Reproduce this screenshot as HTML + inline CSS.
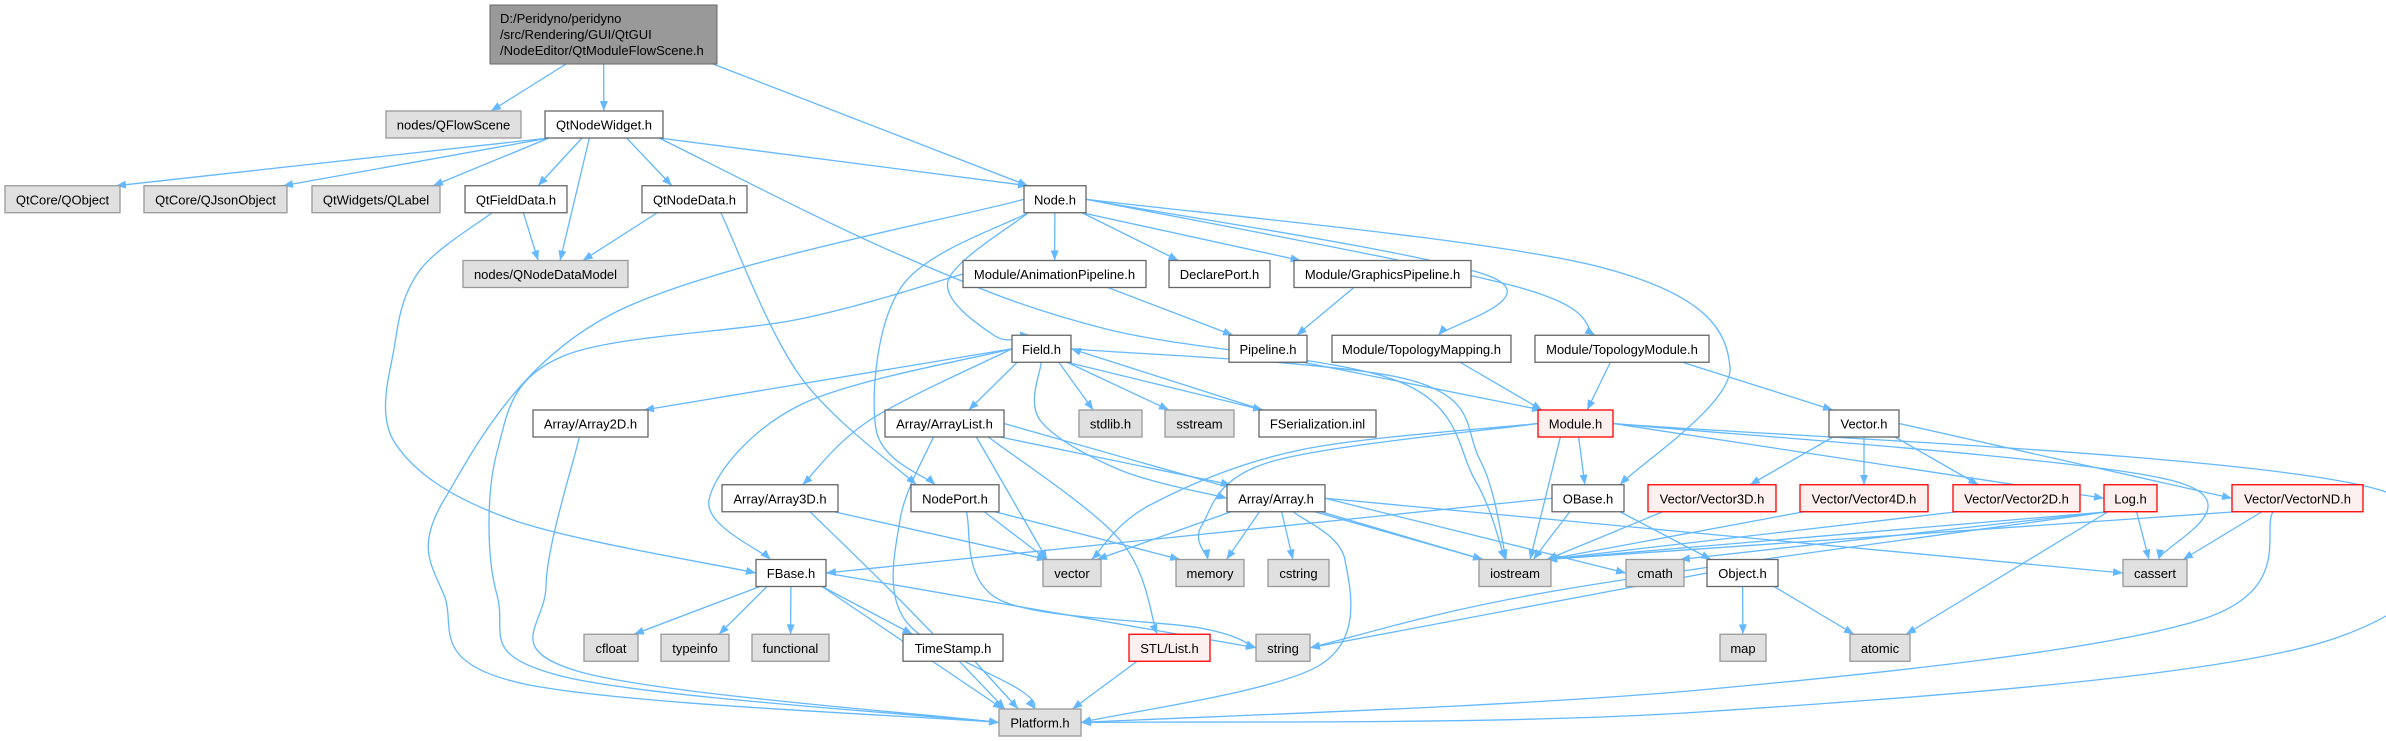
<!DOCTYPE html>
<html><head><meta charset="utf-8"><style>
html,body{margin:0;padding:0;background:#fff;}
svg{display:block;}
text{font-family:"Liberation Sans",Arial,sans-serif;font-size:13px;fill:#000;}
</style></head><body>
<svg id="s" width="2386" height="741" viewBox="0 0 2386 741" xmlns="http://www.w3.org/2000/svg">
<defs><marker id="a" viewBox="0 0 10 8" refX="10" refY="4" markerWidth="10" markerHeight="8" markerUnits="userSpaceOnUse" orient="auto"><path d="M0,0L10,4L0,8z" fill="#63b8ff"/></marker></defs>
<g id="edges" fill="none" stroke="#63b8ff" stroke-width="1.3"></g>
<g id="nodes"></g>
<g id="labels">
<rect x="490" y="5" width="227" height="59" fill="#999" stroke="#666"/>
<text x="500" y="23">D:/Peridyno/peridyno</text>
<text x="500" y="39">/src/Rendering/GUI/QtGUI</text>
<text x="500" y="55">/NodeEditor/QtModuleFlowScene.h</text>
</g>
<g text-anchor="middle">
<text x="453.5" y="129.5">nodes/QFlowScene</text><text x="604" y="129.5">QtNodeWidget.h</text>
<text x="62.5" y="204.3">QtCore/QObject</text><text x="215.5" y="204.3">QtCore/QJsonObject</text><text x="376" y="204.3">QtWidgets/QLabel</text><text x="516" y="204.3">QtFieldData.h</text><text x="694.5" y="204.3">QtNodeData.h</text><text x="1055" y="204.3">Node.h</text>
<text x="545.5" y="279">nodes/QNodeDataModel</text><text x="1054.5" y="279">Module/AnimationPipeline.h</text><text x="1219.5" y="279">DeclarePort.h</text><text x="1382.5" y="279">Module/GraphicsPipeline.h</text>
<text x="1041.5" y="353.8">Field.h</text><text x="1268" y="353.8">Pipeline.h</text><text x="1421.5" y="353.8">Module/TopologyMapping.h</text><text x="1622" y="353.8">Module/TopologyModule.h</text>
<text x="590.5" y="428.5">Array/Array2D.h</text><text x="944.5" y="428.5">Array/ArrayList.h</text><text x="1110.5" y="428.5">stdlib.h</text><text x="1199.5" y="428.5">sstream</text><text x="1317.5" y="428.5">FSerialization.inl</text><text x="1575.5" y="428.5">Module.h</text><text x="1864" y="428.5">Vector.h</text>
<text x="780" y="503.3">Array/Array3D.h</text><text x="955" y="503.3">NodePort.h</text><text x="1276" y="503.3">Array/Array.h</text><text x="1588" y="503.3">OBase.h</text><text x="1712" y="503.3">Vector/Vector3D.h</text><text x="1864" y="503.3">Vector/Vector4D.h</text><text x="2016.5" y="503.3">Vector/Vector2D.h</text><text x="2130.5" y="503.3">Log.h</text><text x="2297.5" y="503.3">Vector/VectorND.h</text>
<text x="791" y="578">FBase.h</text><text x="1072" y="578">vector</text><text x="1210" y="578">memory</text><text x="1298.5" y="578">cstring</text><text x="1515" y="578">iostream</text><text x="1655" y="578">cmath</text><text x="1742.5" y="578">Object.h</text><text x="2155" y="578">cassert</text>
<text x="611" y="652.8">cfloat</text><text x="695" y="652.8">typeinfo</text><text x="790.5" y="652.8">functional</text><text x="953" y="652.8">TimeStamp.h</text><text x="1169.5" y="652.8">STL/List.h</text><text x="1283" y="652.8">string</text><text x="1743" y="652.8">map</text><text x="1880" y="652.8">atomic</text>
<text x="1040" y="727.5">Platform.h</text>
</g>
</svg>
<script>
var R=function(r){return 111+(r-1)*74.75;};
var N={
qfs:[386,521,1,'g'],qnw:[545,663,1,'w'],
qobj:[5,120,2,'g'],qjson:[144,287,2,'g'],qlabel:[312,440,2,'g'],qfd:[465,567,2,'w'],qnd:[642,747,2,'w'],node:[1024,1086,2,'w'],
qndm:[463,628,3,'g'],anim:[963,1146,3,'w'],decl:[1169,1270,3,'w'],gfx:[1294,1471,3,'w'],
field:[1012,1071,4,'w'],pipe:[1229,1307,4,'w'],topomap:[1332,1511,4,'w'],topomod:[1535,1709,4,'w'],
a2d:[533,648,5,'w'],alist:[885,1004,5,'w'],stdlib:[1079,1142,5,'g'],sstream:[1165,1234,5,'g'],fser:[1259,1376,5,'w'],module:[1538,1613,5,'r'],vec:[1829,1899,5,'w'],
a3d:[722,838,6,'w'],nport:[911,999,6,'w'],arr:[1227,1325,6,'w'],obase:[1552,1624,6,'w'],v3:[1648,1776,6,'r'],v4:[1800,1928,6,'r'],v2:[1953,2080,6,'r'],log:[2104,2157,6,'r'],vnd:[2232,2363,6,'r'],
fbase:[756,826,7,'w'],vector:[1043,1101,7,'g'],memory:[1176,1244,7,'g'],cstring:[1268,1329,7,'g'],iostream:[1479,1551,7,'g'],cmath:[1626,1684,7,'g'],object:[1707,1778,7,'w'],cassert:[2123,2187,7,'g'],
cfloat:[584,638,8,'g'],typeinfo:[661,729,8,'g'],functional:[752,829,8,'g'],tstamp:[903,1003,8,'w'],stl:[1129,1210,8,'r'],string:[1256,1310,8,'g'],map:[1720,1766,8,'g'],atomic:[1850,1910,8,'g'],
platform:[999,1081,9,'g']};
function box(id){if(id=='top')return{x1:490,x2:717,y1:5,y2:64};var n=N[id];var y=R(n[2]);return{x1:n[0],x2:n[1],y1:y,y2:y+27};}
function cl(v,a,b){return Math.max(a+4,Math.min(b-4,v));}
var E=[
['top','qfs'],['top','qnw'],['top','node'],
['qnw','qobj'],['qnw','qjson'],['qnw','qlabel'],['qnw','qfd'],['qnw','qndm'],['qnw','qnd'],['qnw','node'],
['qnw','iostream',[[900,255],[1106,329],[1400,382],[1475,480]]],
['qfd','qndm'],['qfd','fbase',[[420,270],[395,343],[395,443],[510,519]],'B','L'],
['qnd','qndm'],['qnd','nport',[[800,376]]],
['node','platform',[[612,314],[444,500],[444,595],[520,683]],'L','L'],
['anim','platform',[[800,319],[561,357],[497,452],[497,595],[561,676]],'L','L'],
['a2d','platform',[[546,586],[577,671]],'B','L'],
['node','anim'],['node','decl'],['node','gfx'],
['node','field',[[948,281],[995,336]],'B','T'],
['node','nport',[[902,286],[876,429]],'B','T'],
['node','topomap',[[1489,276]],'R','T'],
['node','topomod',[[1514,286]],'R','T'],
['node','obase',[[1600,267],[1730,367]],'R','T'],
['anim','pipe'],['gfx','pipe'],['pipe','module'],['topomap','module'],['topomod','module'],['topomod','vec'],
['field','a2d',null,'L','T'],['field','fbase',[[800,405],[709,500]],'L','T'],['field','a3d',[[870,420]],'L','T'],
['field','alist'],['field','stdlib'],['field','sstream'],['field','fser'],
['field','arr',[[1040,420],[1120,470]],'B','L'],
['field','iostream',[[1410,380],[1480,460]],'R','T'],
['fser','field',null,'T','R'],
['alist','platform',[[900,520],[905,620],[1020,690]],'B','T'],
['alist','vector'],['alist','stl',[[1120,540]]],['alist','arr'],['alist','iostream',null,'R','T'],
['nport','vector'],['nport','memory'],['nport','string',[[1000,600],[1200,628]],'B','L'],
['a3d','vector'],['a3d','platform',[[900,600]],'B','T'],
['module','vector',[[1300,450],[1150,505]],'L','T'],['module','memory',[[1270,462],[1202,525]],'L','T'],
['module','iostream'],['module','obase'],['module','log',null,'R','L'],['module','cassert',[[2170,480]],'R','T'],
['module','platform',[[2380,490],[2330,640],[1700,712]],'R','R'],
['arr','vector'],['arr','memory'],['arr','cstring'],['arr','iostream'],['arr','cmath',null,'R','L'],['arr','cassert',null,'R','L'],
['arr','platform',[[1345,560],[1320,665]],'B','R'],
['obase','fbase',null,'L','R'],['obase','iostream'],['obase','object'],
['vec','v3'],['vec','v4'],['vec','v2'],['vec','vnd',null,'R','L'],
['v3','iostream'],['v4','iostream'],['v2','iostream'],['log','iostream'],['log','cmath'],['log','atomic'],['log','cassert'],
['log','string',[[1560,590]],'B','R'],
['vnd','cassert'],['vnd','platform',[[2200,620],[1700,690]],'B','R'],['vnd','iostream'],
['fbase','cfloat'],['fbase','typeinfo'],['fbase','functional'],['fbase','tstamp'],['fbase','string',null,'R','L'],['fbase','platform'],
['tstamp','platform'],['stl','platform'],['object','string',null,'L','R'],['object','map'],['object','atomic']
];
function anc(b,side,tx,ty){var cx=(b.x1+b.x2)/2,cy=(b.y1+b.y2)/2;
 if(side=='L')return[b.x1,cy];if(side=='R')return[b.x2,cy];
 var x=cl(cx+(tx-cx)*0.25,b.x1,b.x2);return side=='T'?[x,b.y1]:[x,b.y2];}
var ns='http://www.w3.org/2000/svg',eg=document.getElementById('edges');
E.forEach(function(e){var a=box(e[0]),b=box(e[1]),via=e[2]||[];
 var ss=e[3]||'B',ts=e[4]||'T';
 var acx=(a.x1+a.x2)/2,bcx=(b.x1+b.x2)/2,acy=(a.y1+a.y2)/2,bcy=(b.y1+b.y2)/2;
 var f=via.length?via[0]:[bcx,bcy],l=via.length?via[via.length-1]:[acx,acy];
 var p=[anc(a,ss,f[0],f[1])].concat(via);p.push(anc(b,ts,l[0],l[1]));
 var d='M'+p[0][0]+','+p[0][1];
 if(p.length==2)d+='L'+p[1][0]+','+p[1][1];
 else for(var i=0;i<p.length-1;i++){var p0=p[i-1]||p[i],p1=p[i],p2=p[i+1],p3=p[i+2]||p2;
  d+='C'+(p1[0]+(p2[0]-p0[0])/6)+','+(p1[1]+(p2[1]-p0[1])/6)+' '+(p2[0]-(p3[0]-p1[0])/6)+','+(p2[1]-(p3[1]-p1[1])/6)+' '+p2[0]+','+p2[1];}
 var pa=document.createElementNS(ns,'path');pa.setAttribute('d',d);pa.setAttribute('marker-end','url(#a)');eg.appendChild(pa);});
var ng=document.getElementById('nodes');
for(var k in N){var n=N[k],b=box(k),r=document.createElementNS(ns,'rect');
 r.setAttribute('x',b.x1);r.setAttribute('y',b.y1);r.setAttribute('width',b.x2-b.x1);r.setAttribute('height',27);
 r.setAttribute('fill',n[3]=='g'?'#e0e0e0':n[3]=='r'?'#fff0f0':'#fff');r.setAttribute('stroke',n[3]=='g'?'#999':n[3]=='r'?'#f00':'#666');r.setAttribute('stroke-width','1.3');
 ng.appendChild(r);}
</script>
</body></html>
